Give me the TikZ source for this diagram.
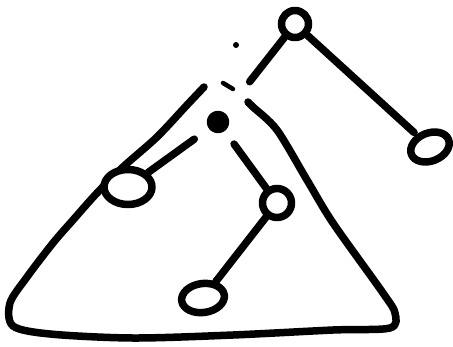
\documentclass[tikz,border=0pt]{standalone}
\usetikzlibrary{shapes.geometric}
\begin{document}
\begin{tikzpicture}[
    x=1pt, y=-1pt,
    %% Prázdny krúžok
    ring/.style={circle, draw=black, fill=white, inner sep=0pt},
    %% Ovál
    oval/.style={ellipse, draw=black, fill=white, inner sep=0pt},
    %% Vyplnený koreň
    hubdot/.style={circle, draw=black, fill=black, minimum size=15pt, inner sep=0pt},
    %% Spojnica
    link/.style={draw=black}
]
\useasboundingbox (0,0) rectangle (453,346);
\begin{scope}[line width=7.5pt, line cap=round, line join=round,
    every node/.append style={line width=7.5pt}]

%% ══════════════════════════════════════════════════════════════════
%% Trojuholník — otvorený pri vrchole
%% ══════════════════════════════════════════════════════════════════
\draw plot[smooth, tension=0.5] coordinates {
    (204,87) (187,105) (157,137) (123,167) (97,193) (73,220)
    (53,243) (27,277) (10,303) (13,326) (50,334) (133,338)
    (233,335) (333,330) (390,328) (395,313) (383,293) (333,223)
    (307,180) (277,130) (253,107) (248,102)};

%% Drobné ťahy pri vrchole
\fill (236,45) circle (3pt);
\draw[line width=4.5pt] (223,83) -- (233,89);

%% ══════════════════════════════════════════════════════════════════
%% Vrcholy
%% ══════════════════════════════════════════════════════════════════
\node[ring, minimum size=27pt] (top) at (295,24) {};
\node[oval, minimum width=40pt, minimum height=28pt, rotate=22] (right) at (430,147) {};
\node[hubdot] (hub) at (218,122) {};
\node[oval, minimum width=48pt, minimum height=35pt] (left) at (128,187) {};
\node[ring, minimum size=29pt] (mid) at (277,203) {};
\node[oval, minimum width=43pt, minimum height=29pt, rotate=8] (bottom) at (203,298) {};

%% ══════════════════════════════════════════════════════════════════
%% Spojnice
%% ══════════════════════════════════════════════════════════════════
\draw[link, shorten >=3pt] (top) -- (right);
\draw[link, shorten >=40pt] (top) -- (hub);
\draw[link, shorten <=18pt] (hub) -- (left);
\draw[link, shorten <=16pt] (hub) -- (mid);
\draw[link] (mid) -- (bottom);
\end{scope}

\end{tikzpicture}
\end{document}
